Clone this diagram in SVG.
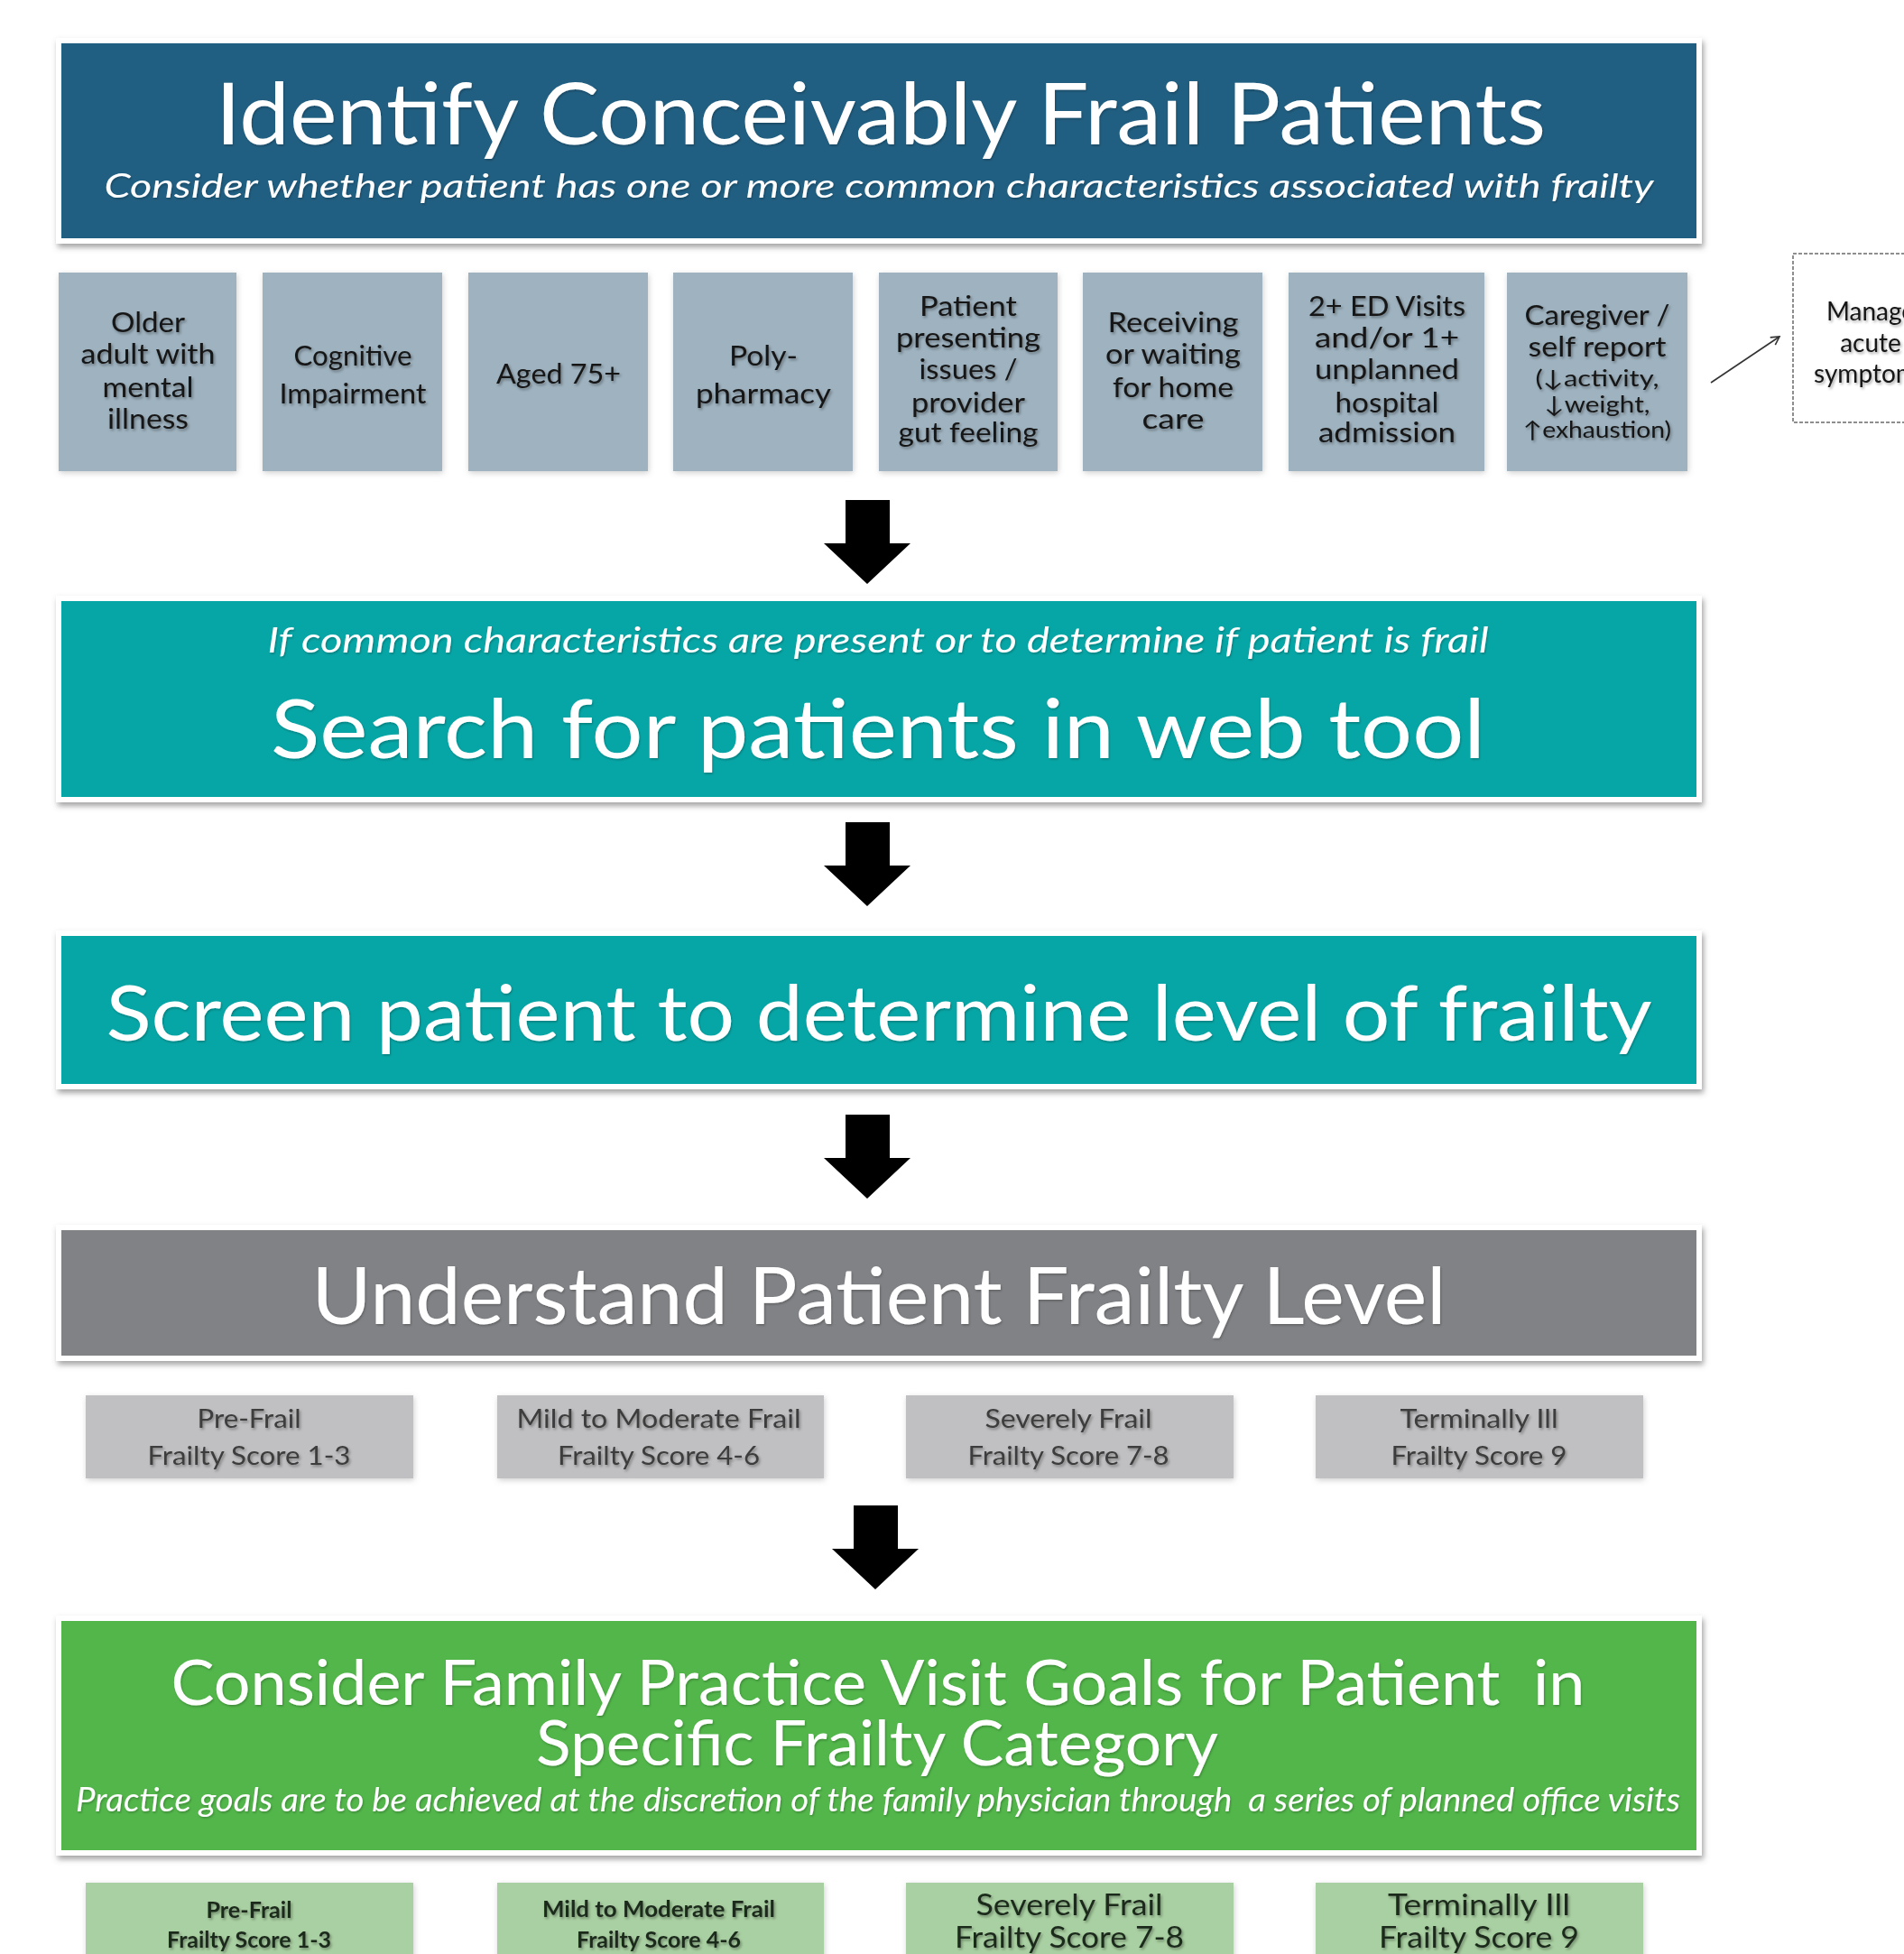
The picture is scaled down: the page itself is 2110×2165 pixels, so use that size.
<svg xmlns="http://www.w3.org/2000/svg" width="2110" height="2165" viewBox="0 0 2110 2165">
<defs>
<filter id="bs" x="-5%" y="-10%" width="110%" height="130%"><feDropShadow dx="2" dy="4" stdDeviation="3" flood-color="#555" flood-opacity="0.55"/></filter>
<filter id="ss" x="-10%" y="-10%" width="120%" height="120%"><feDropShadow dx="1" dy="2" stdDeviation="3" flood-color="#777" flood-opacity="0.35"/></filter>
<filter id="ts" x="-5%" y="-20%" width="110%" height="150%"><feDropShadow dx="1.5" dy="2" stdDeviation="1.5" flood-color="#000" flood-opacity="0.35"/></filter>
<filter id="tw" x="-5%" y="-20%" width="110%" height="150%"><feDropShadow dx="1" dy="1.5" stdDeviation="1" flood-color="#000" flood-opacity="0.25"/></filter>
<marker id="open" viewBox="0 0 12 12" refX="10" refY="6" markerWidth="12" markerHeight="12" markerUnits="userSpaceOnUse" orient="auto"><path d="M1,1 L10,6 L1,11" fill="none" stroke="#333" stroke-width="1.6"/></marker>
<style>
.t{font-family:Lato,"Open Sans","DejaVu Sans",sans-serif;}
.w{fill:#fff;}
.hd{font-size:95px;}
.it{font-style:italic;}
.cb{font-size:30px;fill:#151515;text-anchor:middle;}
.cs{font-size:25px;fill:#151515;text-anchor:middle;}
.lv{font-size:28px;fill:#3c3c3c;text-anchor:middle;}
.gb{font-size:24px;font-weight:bold;fill:#1c2a1c;text-anchor:middle;}
.gl{font-size:32px;fill:#1c2a1c;text-anchor:middle;}
.frame{fill:#fff;}
.char{fill:#9eb2bf;}
.lvl{fill:#c0c0c2;}
.grn{fill:#a9d0a2;}
.blk{fill:#000;}
</style>
</defs>
<rect width="2110" height="2165" fill="#fff"/>

<g id="identify">
<rect class="frame" x="62" y="42" width="1824" height="228" filter="url(#bs)"/>
<rect x="68" y="48" width="1812" height="216" fill="#215f82"/>
<text class="t w" x="976" y="160" font-size="95" text-anchor="middle" textLength="1474" lengthAdjust="spacingAndGlyphs" filter="url(#tw)">Identify Conceivably Frail Patients</text>
<text class="t w it" x="974" y="219" font-size="37" text-anchor="middle" textLength="1717" lengthAdjust="spacingAndGlyphs" filter="url(#tw)">Consider whether patient has one or more common characteristics associated with frailty</text>
</g>

<g id="char1">
<rect class="char" x="65" y="302" width="197" height="220" filter="url(#ss)"/>
<text class="t cb" filter="url(#ts)"><tspan x="164" y="368" textLength="82" lengthAdjust="spacingAndGlyphs">Older</tspan><tspan x="164" y="403" textLength="149" lengthAdjust="spacingAndGlyphs">adult with</tspan><tspan x="164" y="440" textLength="101" lengthAdjust="spacingAndGlyphs">mental</tspan><tspan x="164" y="475" textLength="90" lengthAdjust="spacingAndGlyphs">illness</tspan></text>
</g>
<g id="char2">
<rect class="char" x="291" y="302" width="199" height="220" filter="url(#ss)"/>
<text class="t cb" filter="url(#ts)"><tspan x="391" y="405" textLength="131" lengthAdjust="spacingAndGlyphs">Cognitive</tspan><tspan x="391" y="447" textLength="163" lengthAdjust="spacingAndGlyphs">Impairment</tspan></text>
</g>
<g id="char3">
<rect class="char" x="519" y="302" width="199" height="220" filter="url(#ss)"/>
<text class="t cb" x="619" y="425" textLength="138" lengthAdjust="spacingAndGlyphs" filter="url(#ts)">Aged 75+</text>
</g>
<g id="char4">
<rect class="char" x="746" y="302" width="199" height="220" filter="url(#ss)"/>
<text class="t cb" filter="url(#ts)"><tspan x="846" y="405" textLength="76" lengthAdjust="spacingAndGlyphs">Poly-</tspan><tspan x="846" y="447" textLength="150" lengthAdjust="spacingAndGlyphs">pharmacy</tspan></text>
</g>
<g id="char5">
<rect class="char" x="974" y="302" width="198" height="220" filter="url(#ss)"/>
<text class="t cb" filter="url(#ts)"><tspan x="1073" y="350" textLength="108" lengthAdjust="spacingAndGlyphs">Patient</tspan><tspan x="1073" y="385" textLength="160" lengthAdjust="spacingAndGlyphs">presenting</tspan><tspan x="1073" y="420" textLength="109" lengthAdjust="spacingAndGlyphs">issues /</tspan><tspan x="1073" y="457" textLength="126" lengthAdjust="spacingAndGlyphs">provider</tspan><tspan x="1073" y="490" textLength="155" lengthAdjust="spacingAndGlyphs">gut feeling</tspan></text>
</g>
<g id="char6">
<rect class="char" x="1200" y="302" width="199" height="220" filter="url(#ss)"/>
<text class="t cb" filter="url(#ts)"><tspan x="1300" y="368" textLength="145" lengthAdjust="spacingAndGlyphs">Receiving</tspan><tspan x="1300" y="403" textLength="150" lengthAdjust="spacingAndGlyphs">or waiting</tspan><tspan x="1300" y="440" textLength="134" lengthAdjust="spacingAndGlyphs">for home</tspan><tspan x="1300" y="475" textLength="69" lengthAdjust="spacingAndGlyphs">care</tspan></text>
</g>
<g id="char7">
<rect class="char" x="1428" y="302" width="217" height="220" filter="url(#ss)"/>
<text class="t cb" filter="url(#ts)"><tspan x="1537" y="350" textLength="174" lengthAdjust="spacingAndGlyphs">2+ ED Visits</tspan><tspan x="1537" y="385" textLength="160" lengthAdjust="spacingAndGlyphs">and/or 1+</tspan><tspan x="1537" y="420" textLength="160" lengthAdjust="spacingAndGlyphs">unplanned</tspan><tspan x="1537" y="457" textLength="115" lengthAdjust="spacingAndGlyphs">hospital</tspan><tspan x="1537" y="490" textLength="152" lengthAdjust="spacingAndGlyphs">admission</tspan></text>
</g>
<g id="char8">
<rect class="char" x="1670" y="302" width="200" height="220" filter="url(#ss)"/>
<text class="t cb" filter="url(#ts)"><tspan x="1770" y="360" textLength="161" lengthAdjust="spacingAndGlyphs">Caregiver /</tspan><tspan x="1770" y="395" textLength="153" lengthAdjust="spacingAndGlyphs">self report</tspan></text>
<text class="t cs" filter="url(#ts)"><tspan x="1770" y="428" textLength="137" lengthAdjust="spacingAndGlyphs">(↓activity,</tspan><tspan x="1770" y="457" textLength="117" lengthAdjust="spacingAndGlyphs">↓weight,</tspan><tspan x="1770" y="485" textLength="164" lengthAdjust="spacingAndGlyphs">↑exhaustion)</tspan></text>
</g>

<g id="manage">
<rect x="1987" y="281" width="200" height="187" fill="#fff" stroke="#6a6a6a" stroke-width="1.5" stroke-dasharray="4 2"/>
<text class="t cs" filter="url(#ts)" style="font-size:28px"><tspan x="2073" y="355">Manage</tspan><tspan x="2073" y="390">acute</tspan><tspan x="2073" y="424">symptoms</tspan></text>
</g>

<g id="search">
<rect class="frame" x="62" y="660" width="1824" height="229" filter="url(#bs)"/>
<rect x="68" y="666" width="1812" height="217" fill="#07a6a6"/>
<text class="t w it" x="973" y="723" font-size="39" text-anchor="middle" textLength="1353" lengthAdjust="spacingAndGlyphs" filter="url(#tw)">If common characteristics are present or to determine if patient is frail</text>
<text class="t w" x="973" y="840" font-size="92" text-anchor="middle" textLength="1346" lengthAdjust="spacingAndGlyphs" filter="url(#tw)">Search for patients in web tool</text>
</g>

<g id="screen">
<rect class="frame" x="62" y="1031" width="1824" height="176" filter="url(#bs)"/>
<rect x="68" y="1037" width="1812" height="164" fill="#07a6a6"/>
<text class="t w" x="974" y="1153" font-size="86" text-anchor="middle" textLength="1713" lengthAdjust="spacingAndGlyphs" filter="url(#tw)">Screen patient to determine level of frailty</text>
</g>

<g id="understand">
<rect class="frame" x="62" y="1357" width="1824" height="151" filter="url(#bs)"/>
<rect x="68" y="1363" width="1812" height="139" fill="#818285"/>
<text class="t w" x="974" y="1467" font-size="88" text-anchor="middle" textLength="1257" lengthAdjust="spacingAndGlyphs" filter="url(#tw)">Understand Patient Frailty Level</text>
</g>

<g id="level1">
<rect class="lvl" x="95" y="1546" width="363" height="92" filter="url(#ss)"/>
<text class="t lv" filter="url(#ts)"><tspan x="276" y="1582" textLength="115" lengthAdjust="spacingAndGlyphs">Pre-Frail</tspan><tspan x="276" y="1623" textLength="225" lengthAdjust="spacingAndGlyphs">Frailty Score 1-3</tspan></text>
</g>
<g id="level2">
<rect class="lvl" x="551" y="1546" width="362" height="92" filter="url(#ss)"/>
<text class="t lv" filter="url(#ts)"><tspan x="730" y="1582" textLength="315" lengthAdjust="spacingAndGlyphs">Mild to Moderate Frail</tspan><tspan x="730" y="1623" textLength="224" lengthAdjust="spacingAndGlyphs">Frailty Score 4-6</tspan></text>
</g>
<g id="level3">
<rect class="lvl" x="1004" y="1546" width="363" height="92" filter="url(#ss)"/>
<text class="t lv" filter="url(#ts)"><tspan x="1184" y="1582" textLength="185" lengthAdjust="spacingAndGlyphs">Severely Frail</tspan><tspan x="1184" y="1623" textLength="223" lengthAdjust="spacingAndGlyphs">Frailty Score 7-8</tspan></text>
</g>
<g id="level4">
<rect class="lvl" x="1458" y="1546" width="363" height="92" filter="url(#ss)"/>
<text class="t lv" filter="url(#ts)"><tspan x="1639" y="1582" textLength="175" lengthAdjust="spacingAndGlyphs">Terminally Ill</tspan><tspan x="1639" y="1623" textLength="195" lengthAdjust="spacingAndGlyphs">Frailty Score 9</tspan></text>
</g>

<g id="consider">
<rect class="frame" x="62" y="1790" width="1824" height="266" filter="url(#bs)"/>
<rect x="68" y="1796" width="1812" height="254" fill="#52b64a"/>
<text class="t w" x="973" y="1889" font-size="70" text-anchor="middle" textLength="1567" lengthAdjust="spacingAndGlyphs" xml:space="preserve" filter="url(#tw)">Consider Family Practice Visit Goals for Patient  in</text>
<text class="t w" x="972" y="1956" font-size="70" text-anchor="middle" textLength="756" lengthAdjust="spacingAndGlyphs" filter="url(#tw)">Specific Frailty Category</text>
<text class="t w it" x="973" y="2007" font-size="36" text-anchor="middle" textLength="1778" lengthAdjust="spacingAndGlyphs" xml:space="preserve" filter="url(#tw)">Practice goals are to be achieved at the discretion of the family physician through  a series of planned office visits</text>
</g>

<g id="goal1">
<rect class="grn" x="95" y="2086" width="363" height="95" filter="url(#ss)"/>
<text class="t gb" filter="url(#ts)"><tspan x="276" y="2125" textLength="95" lengthAdjust="spacingAndGlyphs">Pre-Frail</tspan><tspan x="276" y="2158" textLength="182" lengthAdjust="spacingAndGlyphs">Frailty Score 1-3</tspan></text>
</g>
<g id="goal2">
<rect class="grn" x="551" y="2086" width="362" height="95" filter="url(#ss)"/>
<text class="t gb" filter="url(#ts)"><tspan x="730" y="2124" textLength="258" lengthAdjust="spacingAndGlyphs">Mild to Moderate Frail</tspan><tspan x="730" y="2158" textLength="182" lengthAdjust="spacingAndGlyphs">Frailty Score 4-6</tspan></text>
</g>
<g id="goal3">
<rect class="grn" x="1004" y="2086" width="363" height="95" filter="url(#ss)"/>
<text class="t gl" filter="url(#ts)"><tspan x="1185" y="2122" textLength="207" lengthAdjust="spacingAndGlyphs">Severely Frail</tspan><tspan x="1185" y="2158" textLength="254" lengthAdjust="spacingAndGlyphs">Frailty Score 7-8</tspan></text>
</g>
<g id="goal4">
<rect class="grn" x="1458" y="2086" width="363" height="95" filter="url(#ss)"/>
<text class="t gl" filter="url(#ts)"><tspan x="1639" y="2122" textLength="202" lengthAdjust="spacingAndGlyphs">Terminally Ill</tspan><tspan x="1639" y="2158" textLength="222" lengthAdjust="spacingAndGlyphs">Frailty Score 9</tspan></text>
</g>

<g id="connectors">
<path class="blk" d="M937,554 H986 V602 H1009 L961,647 L913,602 H937 Z"/>
<path class="blk" d="M937,911 H986 V959 H1009 L961,1004 L913,959 H937 Z"/>
<path class="blk" d="M937,1235 H986 V1283 H1009 L961,1328 L913,1283 H937 Z"/>
<path class="blk" d="M946,1668 H995 V1716 H1018 L970,1761 L922,1716 H946 Z"/>
<line x1="1896" y1="424" x2="1972" y2="373" stroke="#333" stroke-width="1.6" marker-end="url(#open)"/>
</g>
</svg>
